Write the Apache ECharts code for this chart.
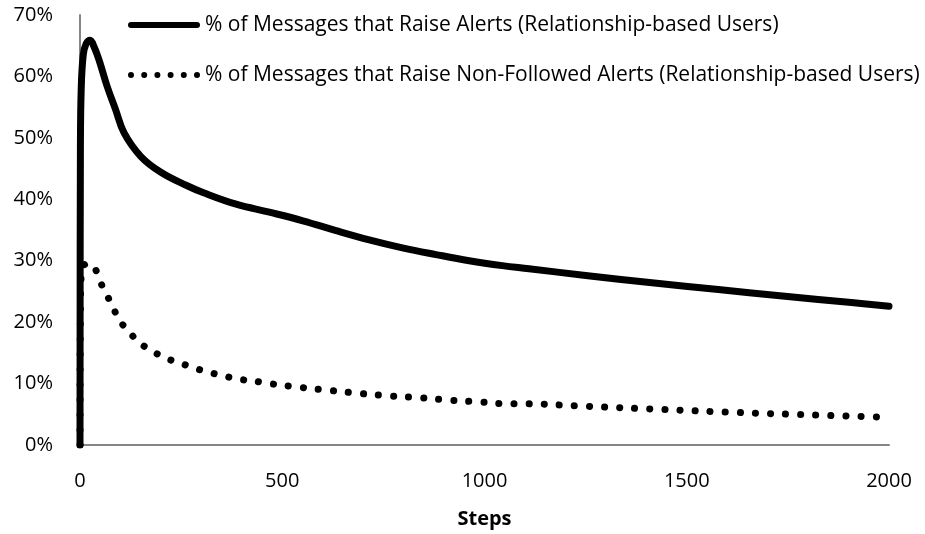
<!DOCTYPE html>
<html>
<head>
<meta charset="utf-8">
<script src="https://cdn.jsdelivr.net/npm/echarts@6/dist/echarts.min.js"></script>
<style>
  html, body { margin: 0; padding: 0; background: #fff; }
  #chart { width: 925px; height: 534px; }
</style>
</head>
<body>
<div id="chart"></div>
<script>
// values (percent of messages)
const alertSteps = [0, 1, 3, 8, 15, 25, 35, 47, 67, 88, 109, 150, 200, 265, 304, 386, 468, 551, 633, 715, 797, 880, 962, 1044, 1110, 1250, 1414, 1578, 1743, 1907, 2000]
const alertValues = [0, 48, 58, 63.5, 65.3, 65.9, 64.8, 62.7, 58.4, 54.6, 50.8, 47.0, 44.4, 42.2, 41.1, 39.2, 37.9, 36.5, 34.9, 33.4, 32.1, 31.0, 30.0, 29.2, 28.7, 27.6, 26.4, 25.3, 24.2, 23.2, 22.6]
const nonFollowedSteps = [0, 1, 4, 12, 22, 35, 49, 66, 82, 100, 124, 150, 181, 214, 249, 284, 321, 358, 394, 431, 468, 542, 616, 690, 764, 838, 914, 988, 1062, 1101, 1252, 1437, 1622, 1807, 2000]
const nonFollowedValues = [0, 22, 28.5, 29.4, 29.5, 29.0, 26.7, 24.5, 22.3, 20.1, 18.2, 16.5, 15.2, 14.1, 13.3, 12.5, 11.8, 11.2, 10.7, 10.4, 10.0, 9.4, 8.9, 8.4, 8.0, 7.7, 7.3, 7.0, 6.7, 6.7, 6.3, 5.8, 5.3, 4.9, 4.5]
const xTicks = [0, 500, 1000, 1500, 2000]
const yTicks = [0, 10, 20, 30, 40, 50, 60, 70]
const seriesNames = [
  '% of Messages that Raise Alerts (Relationship-based Users)',
  '% of Messages that Raise Non-Followed Alerts (Relationship-based Users)'
]

const font = 'Open Sans'
const chart = echarts.init(document.getElementById('chart'))

// legend icons drawn as paths: a thick bar and a row of dots
const barIcon = 'path://M3,0 H69 A3,3 0 0 1 69,6 H3 A3,3 0 0 1 3,0 Z'
let dotIcon = 'path://'
for (let i = 0; i < 6; i++) {
  const cx = 3 + i * 13.2
  dotIcon += 'M' + (cx - 3) + ',3 A3,3 0 1 0 ' + (cx + 3) + ',3 A3,3 0 1 0 ' + (cx - 3) + ',3 Z '
}

const legendText = { fontSize: 21, color: '#000', fontFamily: font, lineHeight: 24 }

chart.setOption({
  animation: false,
  textStyle: { fontFamily: font },
  legend: [
    {
      data: [{ name: seriesNames[0], icon: barIcon }],
      left: 123,
      top: 8,
      itemWidth: 72,
      itemHeight: 6,
      textStyle: legendText
    },
    {
      data: [{ name: seriesNames[1], icon: dotIcon }],
      left: 123,
      top: 58,
      itemWidth: 72,
      itemHeight: 6,
      textStyle: legendText
    }
  ],
  grid: {
    left: 80,
    right: 36,
    top: 15,
    bottom: 87
  },
  xAxis: {
    type: 'value',
    min: xTicks[0],
    max: xTicks[xTicks.length - 1],
    interval: xTicks[1] - xTicks[0],
    name: 'Steps',
    nameLocation: 'middle',
    nameGap: 64,
    nameTextStyle: { fontSize: 20, fontWeight: 'bold', color: '#000', fontFamily: font },
    axisLine: { lineStyle: { color: '#868686', width: 2 } },
    axisTick: { show: false },
    splitLine: { show: false },
    axisLabel: { fontSize: 20, color: '#000', margin: 26, fontFamily: font, formatter: v => String(v) }
  },
  yAxis: {
    type: 'value',
    min: yTicks[0],
    max: yTicks[yTicks.length - 1],
    interval: yTicks[1] - yTicks[0],
    axisLine: { show: true, lineStyle: { color: '#868686', width: 2 } },
    axisTick: { show: false },
    splitLine: { show: false },
    axisLabel: { fontSize: 20, color: '#000', margin: 27, formatter: '{value}%', fontFamily: font }
  },
  series: [
    {
      name: seriesNames[0],
      type: 'line',
      smooth: 0.4,
      showSymbol: false,
      symbol: 'none',
      data: alertSteps.map((s, i) => [s, alertValues[i]]),
      lineStyle: { color: '#000', width: 7, cap: 'round', join: 'round' },
      itemStyle: { color: '#000' }
    },
    {
      name: seriesNames[1],
      type: 'line',
      smooth: 0.4,
      showSymbol: false,
      symbol: 'none',
      data: nonFollowedSteps.map((s, i) => [s, nonFollowedValues[i]]),
      lineStyle: { color: '#000', width: 7, type: [0.1, 15], cap: 'round' },
      itemStyle: { color: '#000' }
    }
  ]
})
</script>
</body>
</html>
